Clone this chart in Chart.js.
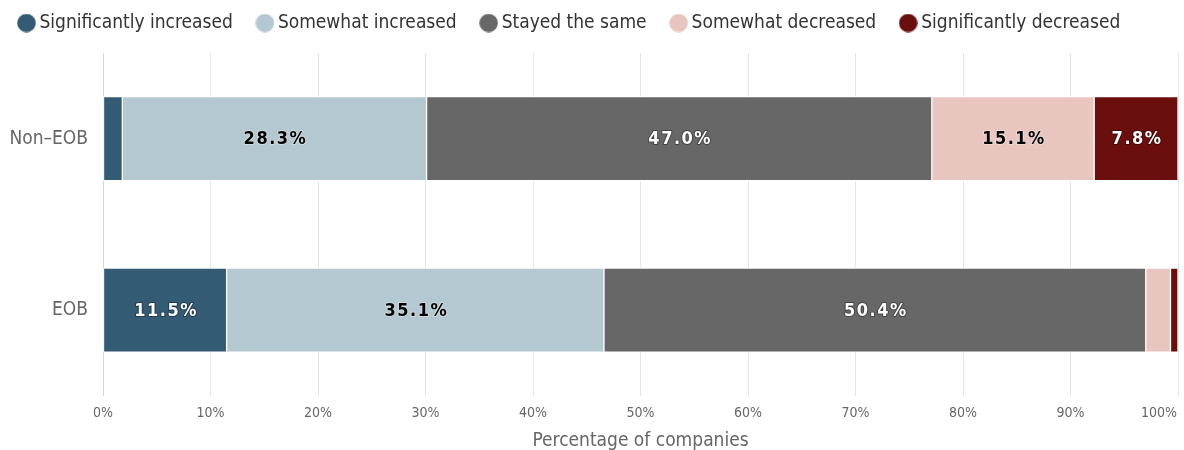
<!DOCTYPE html>
<html><head><meta charset="utf-8">
<script src="https://cdn.jsdelivr.net/npm/chart.js@4"></script>
<style>html,body{margin:0;padding:0;background:#fff}#wrap{width:1184px;height:450px}</style>
</head><body><div id="wrap"><canvas id="c" width="1184" height="450"></canvas></div>
<script>
const categories = ["Non\u2013EOB", "EOB"];
const seriesNames = ["Significantly increased", "Somewhat increased", "Stayed the same", "Somewhat decreased", "Significantly decreased"];
const sigIncreased = [1.8, 11.5];
const someIncreased = [28.3, 35.1];
const stayedSame = [47.0, 50.4];
const someDecreased = [15.1, 2.3];
const sigDecreased = [7.8, 0.7];
const tickValues = [0, 10, 20, 30, 40, 50, 60, 70, 80, 90, 100];
const axisTitle = "Percentage of companies";

const colors = ["#335b74", "#b3c8d0", "#676767", "#e8c5be", "#6b0e0e"];
const labelColors = ["#ffffff", "#000000", "#ffffff", "#000000", "#ffffff"];
const FONT = "'DejaVu Sans Condensed', 'DejaVu Sans', sans-serif";

function circleImage(color) {
  const c = document.createElement('canvas');
  c.width = 19; c.height = 19;
  const g = c.getContext('2d');
  g.fillStyle = color;
  g.beginPath(); g.arc(9.5, 9.5, 9.3, 0, Math.PI * 2); g.fill();
  return c;
}
const circles = colors.map(circleImage);

const allSeries = [sigIncreased, someIncreased, stayedSame, someDecreased, sigDecreased];
const datasets = allSeries.map((d, i) => ({
  label: seriesNames[i], data: d, backgroundColor: colors[i],
  borderColor: "#ffffff", borderWidth: 1, borderSkipped: false,
  barThickness: 84
}));

const legendMargin = {
  id: 'legendMargin',
  beforeInit(chart) {
    const orig = chart.legend.fit;
    chart.legend.fit = function () { orig.call(this); this.height = 68; };
  }
};

const dataLabels = {
  id: 'dataLabels',
  afterDatasetsDraw(chart) {
    const ctx = chart.ctx;
    ctx.save();
    ctx.font = "bold 18px " + FONT;
    ctx.textAlign = 'center';
    ctx.textBaseline = 'middle';
    try { ctx.letterSpacing = '1.5px'; } catch (e) {}
    chart.data.datasets.forEach((ds, di) => {
      const meta = chart.getDatasetMeta(di);
      meta.data.forEach((el, i) => {
        const v = ds.data[i];
        if (v < 5) return;
        const x = (el.x + el.base) / 2 + 1;
        const txt = v.toFixed(1) + '%';
        ctx.lineWidth = 2;
        ctx.lineJoin = 'round';
        ctx.strokeStyle = labelColors[di] === '#ffffff' ? 'rgba(0,0,0,0.35)' : 'rgba(255,255,255,0.35)';
        ctx.strokeText(txt, x, el.y + 1);
        ctx.fillStyle = labelColors[di];
        ctx.fillText(txt, x, el.y + 1);
      });
    });
    ctx.restore();
  }
};

const xTickLabels = {
  id: 'xTickLabels',
  afterDraw(chart) {
    const sc = chart.scales.x;
    const ctx = chart.ctx;
    ctx.save();
    ctx.font = "14px " + FONT;
    ctx.fillStyle = '#666666';
    ctx.textBaseline = 'middle';
    tickValues.forEach((v, i) => {
      const px = sc.getPixelForValue(v);
      const txt = v + '%';
      if (i === tickValues.length - 1) {
        ctx.textAlign = 'right';
        ctx.fillText(txt, px - 1, chart.chartArea.bottom + 18);
      } else {
        ctx.textAlign = 'center';
        ctx.fillText(txt, px, chart.chartArea.bottom + 18);
      }
    });
    ctx.restore();
  }
};

new Chart(document.getElementById('c'), {
  type: 'bar',
  data: { labels: categories, datasets },
  plugins: [legendMargin, dataLabels, xTickLabels],
  options: {
    indexAxis: 'y',
    responsive: false,
    animation: false,
    layout: { padding: { left: -5.5, right: 6, top: -15, bottom: -1 } },
    plugins: {
      tooltip: { enabled: false },
      legend: {
        position: 'top', align: 'start',
        labels: {
          usePointStyle: true, boxHeight: 13.4, pointStyleWidth: 7,
          padding: 28.5, color: '#333333', font: { family: FONT, size: 19 },
          generateLabels(chart) {
            const items = Chart.defaults.plugins.legend.labels.generateLabels(chart);
            items.forEach(it => { it.pointStyle = circles[it.datasetIndex]; });
            return items;
          }
        }
      }
    },
    scales: {
      x: {
        stacked: true, min: 0, max: 100,
        afterBuildTicks(scale) { scale.ticks = tickValues.map(v => ({ value: v })); },
        afterFit(scale) { scale.paddingRight = 0; scale.paddingLeft = 0; scale.height = 55.25; },
        grid: { color: '#e6e6e6', drawTicks: false },
        border: { display: false },
        ticks: { color: 'rgba(0,0,0,0)', padding: 8, font: { family: FONT, size: 14 }, callback: v => v + '%' },
        title: { display: true, text: axisTitle, color: '#666666', padding: { top: 6, bottom: -1.5 }, font: { family: FONT, size: 19 } }
      },
      y: {
        stacked: true,
        afterFit(scale) { scale.width = 108.5; },
        grid: { display: false, drawTicks: false },
        border: { display: true, color: '#ccd6eb', width: 1 },
        ticks: { color: '#666666', padding: 15, font: { family: FONT, size: 19 } }
      }
    }
  }
});
</script></body></html>
